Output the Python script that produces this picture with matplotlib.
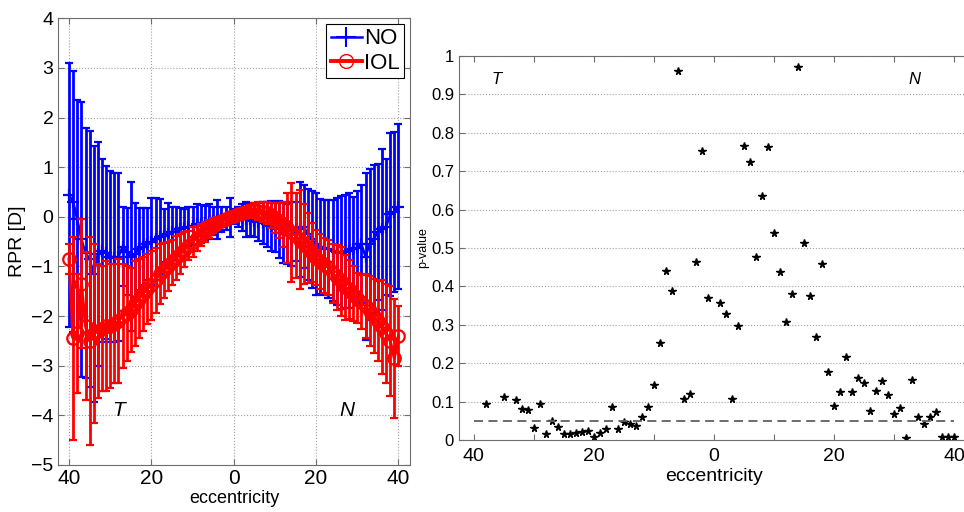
import numpy as np
import matplotlib
matplotlib.use("Agg")
from matplotlib import pyplot as plt
from matplotlib.lines import Line2D

plt.rcParams['font.family'] = ['Liberation Sans', 'DejaVu Sans']

# eccentricity (deg), temporal side negative
ecc = list(range(-40, 41))

# RPR, no lens (NO): mean and upper end of the error bar
no_mean = [0.44, 0.30, -0.05, -0.45, -0.73, -0.85, -1.15, -0.75, -0.68, -0.72,
           -0.80, -0.82, -0.81, -0.60, -0.70, -0.80, -0.75, -0.65, -0.60, -0.55,
           -0.50, -0.45, -0.40, -0.38, -0.35, -0.30, -0.30, -0.25, -0.22, -0.20,
           -0.18, -0.15, -0.15, -0.12, -0.10, -0.08, -0.06, -0.05, -0.03, -0.02,
           0.00,
           0.00, -0.02, -0.05, -0.05, -0.08, -0.10, -0.12, -0.15, -0.18, -0.20,
           -0.25, -0.32, -0.35, -0.35, -0.30, -0.25, -0.20, -0.35, -0.45, -0.55,
           -0.60, -0.62, -0.65, -0.68, -0.70, -0.72, -0.70, -0.68, -0.65, -0.62,
           -0.55, -0.80, -0.55, -0.45, -0.30, -0.25, -0.20, 0.05, 0.10, 0.20]
no_upper = [3.10, 2.93, 2.35, 2.32, 1.78, 1.73, 1.43, 1.51, 1.16, 1.02,
            0.92, 0.89, 0.88, 0.20, 0.17, 0.71, 0.28, 0.17, 0.17, 0.17,
            0.38, 0.37, 0.35, 0.15, 0.28, 0.20, 0.19, 0.17, 0.15, 0.19,
            0.20, 0.25, 0.23, 0.22, 0.25, 0.20, 0.33, 0.20, 0.20, 0.37,
            0.15,
            0.20, 0.25, 0.30, 0.28, 0.25, 0.28, 0.30, 0.30, 0.32, 0.30,
            0.32, 0.30, 0.25, 0.30, 0.30, 0.71, 0.64, 0.57, 0.53, 0.47,
            0.36, 0.34, 0.34, 0.34, 0.37, 0.41, 0.44, 0.47, 0.40, 0.53,
            0.64, 0.88, 0.97, 1.04, 1.07, 1.37, 1.17, 1.69, 1.71, 1.86]

# RPR, with intraocular lens (IOL): mean and half error
iol_mean = [-0.85, -2.45, -2.35, -1.35, -2.20, -2.50, -2.35, -2.30, -2.25, -2.20,
            -2.20, -2.15, -2.10, -2.00, -1.95, -1.88, -1.75, -1.65, -1.55, -1.45,
            -1.38, -1.28, -1.15, -1.08, -1.00, -0.92, -0.83, -0.75, -0.66, -0.58,
            -0.50, -0.43, -0.36, -0.30, -0.24, -0.18, -0.12, -0.08, -0.04, -0.01,
            0.02,
            0.05, 0.08, 0.10, 0.12, 0.13, 0.12, 0.10, 0.07, 0.03, -0.02,
            -0.08, -0.15, -0.23, -0.31, -0.38, -0.46, -0.55, -0.63, -0.72, -0.82,
            -0.90, -0.98, -1.02, -1.14, -1.22, -1.30, -1.42, -1.46, -1.55, -1.64,
            -1.72, -1.80, -1.90, -2.00, -2.10, -2.22, -2.35, -2.50, -2.85, -2.40]
iol_err = [0.30, 2.05, 1.20, 1.30, 1.50, 2.10, 1.80, 1.35, 1.25, 1.30,
           1.25, 1.20, 1.25, 1.05, 0.95, 0.85, 0.85, 0.80, 0.75, 0.70,
           0.70, 0.65, 0.60, 0.55, 0.50, 0.45, 0.45, 0.40, 0.35, 0.30,
           0.30, 0.25, 0.22, 0.20, 0.18, 0.15, 0.12, 0.10, 0.10, 0.08,
           0.08,
           0.08, 0.10, 0.10, 0.12, 0.15, 0.18, 0.20, 0.22, 0.25, 0.30,
           0.35, 0.45, 0.70, 1.00, 0.85, 1.00, 0.80, 0.70, 0.60, 0.55,
           0.55, 0.55, 0.55, 0.60, 0.65, 0.70, 0.65, 0.60, 0.55, 0.50,
           0.55, 0.65, 0.70, 0.75, 0.80, 0.95, 1.00, 1.10, 1.20, 0.60]

# p-values (NO vs IOL)
p_ecc = [-38, -35, -33, -32, -31, -30, -29, -28, -27, -26, -25, -24, -23, -22,
         -21, -20, -19, -18, -17, -16, -15, -14, -13, -12, -11, -10, -9, -8,
         -7, -6, -5, -4, -3, -2, -1, 1, 2, 3, 4, 5, 6, 7, 8, 9, 10, 11, 12,
         13, 14, 15, 16, 17, 18, 19, 20, 21, 22, 23, 24, 25, 26, 27, 28, 29,
         30, 31, 32, 33, 34, 35, 36, 37, 38, 39, 40]
p_val = [0.094, 0.113, 0.104, 0.080, 0.078, 0.030, 0.095, 0.015, 0.050, 0.035,
         0.016, 0.016, 0.019, 0.021, 0.024, 0.007, 0.019, 0.028, 0.087, 0.028,
         0.048, 0.041, 0.036, 0.061, 0.087, 0.143, 0.253, 0.441, 0.388, 0.961,
         0.107, 0.119, 0.464, 0.753, 0.369, 0.356, 0.327, 0.107, 0.297, 0.766,
         0.725, 0.477, 0.635, 0.763, 0.538, 0.438, 0.308, 0.379, 0.971, 0.512,
         0.375, 0.268, 0.458, 0.177, 0.089, 0.126, 0.217, 0.126, 0.161, 0.148,
         0.076, 0.128, 0.154, 0.116, 0.067, 0.083, 0.004, 0.156, 0.061, 0.042,
         0.059, 0.072, 0.009, 0.009, 0.009]
alpha = 0.05

tick_pos = [-40, -20, 0, 20, 40]
tick_lab = ['40', '20', '0', '20', '40']

fig = plt.figure(figsize=(9.64, 5.12), dpi=100)
spine_col = '#6e6e6e'
grid_kw = dict(color='#a0a0a0', linestyle=':', linewidth=0.8)

# ---- left panel ----
ax1 = fig.add_axes([0.0605, 0.0918, 0.3648, 0.8725])
no_err = np.array(no_upper) - np.array(no_mean)
ax1.errorbar(ecc, no_mean, yerr=no_err, color='#0000ff', marker='+', ms=9,
             mew=1.6, lw=1.8, elinewidth=2.0, capsize=3, capthick=2.2, zorder=3)
ax1.errorbar(ecc, iol_mean, yerr=iol_err, color='#ff0000', marker='o', ms=9,
             mfc='none', mew=1.6, lw=2.2, elinewidth=2.0, capsize=3,
             capthick=2.2, zorder=4)
ax1.set_xlim(-42.6, 42.8)
ax1.set_ylim(-5, 4)
ax1.set_yticks(range(-5, 5))
ax1.set_xticks(tick_pos)
ax1.set_xticklabels(tick_lab)
ax1.tick_params(direction='in', top=True, right=True, length=4, color=spine_col)
ax1.tick_params(axis='x', labelsize=15, pad=3)
ax1.tick_params(axis='y', labelsize=14)
ax1.grid(True, **grid_kw)
ax1.set_axisbelow(True)
for s in ax1.spines.values():
    s.set_color(spine_col)
ax1.set_xlabel('eccentricity', fontsize=13, labelpad=1)
ax1.set_ylabel('RPR [D]', fontsize=14, labelpad=4)
ax1.text(-28, -3.9, 'T', style='italic', fontsize=15, ha='center', va='center')
ax1.text(27.5, -3.9, 'N', style='italic', fontsize=15, ha='center', va='center')
handles = [Line2D([], [], color='#0000ff', marker='+', ms=15, mew=1.5, lw=1.8),
           Line2D([], [], color='#ff0000', marker='o', ms=10, mfc='none', lw=2.8)]
leg = ax1.legend(handles, ['NO', 'IOL'], loc='upper right', fontsize=16,
                 handlelength=1.4, handletextpad=0.1, borderpad=0.2,
                 labelspacing=0.15, borderaxespad=0.25, fancybox=False,
                 framealpha=1, edgecolor='black')
leg.get_frame().set_linewidth(0.8)

# ---- right panel ----
ax2 = fig.add_axes([0.476, 0.1406, 0.5297, 0.75])
ax2.plot(p_ecc, p_val, linestyle='none', marker='*', color='black', ms=5.5)
ax2.plot([-40, 40], [alpha, alpha], linestyle='--', color='#606060', lw=1.3,
         dashes=(5, 3))
ax2.set_xlim(-42.5, 42.5)
ax2.set_ylim(0, 1)
ax2.set_yticks(np.round(np.arange(0, 1.01, 0.1), 1))
ax2.set_yticklabels(['0', '0.1', '0.2', '0.3', '0.4', '0.5', '0.6', '0.7',
                     '0.8', '0.9', '1'])
ax2.set_xticks(range(-40, 41, 10))
ax2.set_xticklabels(['40', '', '20', '', '0', '', '20', '', '40'])
ax2.tick_params(direction='in', top=True, right=True, length=4, color=spine_col)
ax2.tick_params(axis='x', labelsize=14, pad=6)
ax2.tick_params(axis='y', labelsize=12)
ax2.yaxis.grid(True, **grid_kw)
ax2.set_axisbelow(True)
for s in ax2.spines.values():
    s.set_color(spine_col)
ax2.set_xlabel('eccentricity', fontsize=14, labelpad=2)
ax2.set_ylabel('p-value', fontsize=9, labelpad=1)
ax2.text(-36.2, 0.94, 'T', style='italic', fontsize=12, ha='center', va='center')
ax2.text(33.3, 0.94, 'N', style='italic', fontsize=12, ha='center', va='center')

fig.savefig('out.png', dpi=100)
